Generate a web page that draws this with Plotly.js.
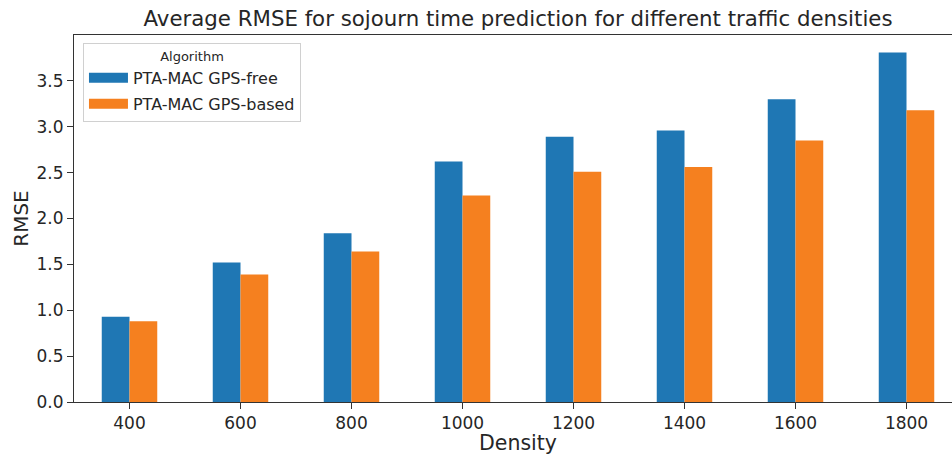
<!DOCTYPE html>
<html>
<head>
<meta charset="utf-8">
<script src="https://cdn.plot.ly/plotly-3.0.1.min.js"></script>
<style>
  html, body { margin: 0; padding: 0; overflow: hidden; background: #fff; }
  #chart { width: 964px; height: 455px; }
</style>
</head>
<body>
<div id="chart"></div>
<script>
const densities = ['400', '600', '800', '1000', '1200', '1400', '1600', '1800'];
const seriesNames = ['PTA-MAC GPS-free', 'PTA-MAC GPS-based'];
const gpsFree = [0.93, 1.52, 1.84, 2.62, 2.89, 2.96, 3.30, 3.81];
const gpsBased = [0.88, 1.39, 1.64, 2.25, 2.51, 2.56, 2.85, 3.18];
const colors = ['#1f77b4', '#f5801f'];

const font = 'DejaVu Sans, Liberation Sans, sans-serif';
const seriesValues = [gpsFree, gpsBased];

const traces = [];
seriesValues.forEach((vals, i) => {
  traces.push({
    type: 'bar',
    x: densities,
    y: vals,
    name: seriesNames[i],
    marker: { color: colors[i], line: { width: 0 } },
    showlegend: false,
    hoverinfo: 'x+y+name'
  });
});
seriesValues.forEach((vals, i) => {
  traces.push({
    type: 'scatter',
    mode: 'lines',
    x: [null],
    y: [null],
    name: seriesNames[i],
    legendgroup: 'g' + i,
    line: { color: colors[i], width: 11 },
    showlegend: true
  });
});

const layout = {
  width: 964,
  height: 455,
  margin: { l: 74, r: 2, t: 35, b: 53 },
  paper_bgcolor: '#ffffff',
  plot_bgcolor: '#ffffff',
  font: { family: font, color: '#262626' },
  title: {
    text: 'Average RMSE for sojourn time prediction for different traffic densities',
    font: { family: font, size: 21.3, color: '#262626' },
    xref: 'paper', x: 0.5, xanchor: 'center',
    yref: 'container', y: 1 - 19 / 455, yanchor: 'middle'
  },
  barmode: 'group',
  bargap: 0.5,
  bargroupgap: 0,
  xaxis: {
    type: 'category',
    range: [-0.5, 7.5],
    showgrid: false,
    zeroline: false,
    showline: true,
    linecolor: '#333333',
    linewidth: 1,
    mirror: true,
    ticks: 'outside',
    ticklen: 6,
    tickcolor: '#333333',
    tickfont: { family: font, size: 17, color: '#262626' },
    title: { text: 'Density', font: { family: font, size: 20.5, color: '#262626' }, standoff: 7 },
    fixedrange: true
  },
  yaxis: {
    range: [0, 4.0],
    tickvals: [0, 0.5, 1.0, 1.5, 2.0, 2.5, 3.0, 3.5],
    ticktext: ['0.0', '0.5', '1.0', '1.5', '2.0', '2.5', '3.0', '3.5'],
    showgrid: false,
    zeroline: false,
    showline: true,
    linecolor: '#333333',
    linewidth: 1,
    ticks: 'outside',
    ticklen: 6,
    tickcolor: '#333333',
    tickfont: { family: font, size: 17, color: '#262626' },
    title: { text: 'RMSE', font: { family: font, size: 20, color: '#262626' }, standoff: 2 },
    fixedrange: true
  },
  legend: {
    x: 0.0101, y: 0.978, xanchor: 'left', yanchor: 'top',
    bgcolor: '#ffffff',
    bordercolor: '#d0d0d0',
    borderwidth: 1,
    font: { family: font, size: 16, color: '#262626' },
    title: { text: 'Algorithm', side: 'top center', font: { family: font, size: 13, color: '#262626' } },
    traceorder: 'grouped',
    tracegroupgap: 2,
    itemwidth: 39
  },
  showlegend: true
};

Plotly.newPlot('chart', traces, layout, { displayModeBar: false, staticPlot: true });
</script>
</body>
</html>
